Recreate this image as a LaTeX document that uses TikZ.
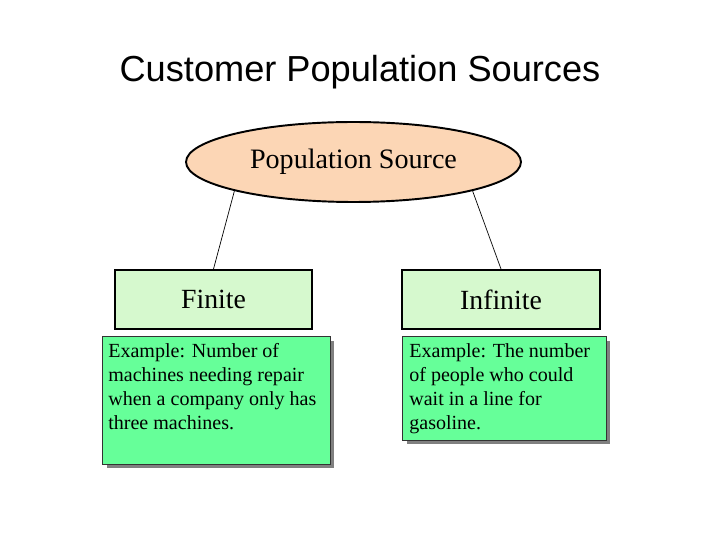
\documentclass[tikz,border=0pt]{standalone}
\usepackage{fontspec}
\setmainfont{Liberation Serif}
\newfontfamily\titlefont{Liberation Sans}
\usetikzlibrary{shapes.geometric, shadows, positioning}

\definecolor{peach}{RGB}{252,214,181}
\definecolor{palegreen}{RGB}{214,249,206}
\definecolor{brightgreen}{RGB}{102,255,153}

\begin{document}
\begin{tikzpicture}[
        x=0.02cm, y=-0.02cm,
        % Style for the source and the two kinds
        source/.style={draw, line width=1.1pt, fill=peach, ellipse, minimum width=6.7cm, minimum height=1.6cm, inner sep=0pt, font=\fontsize{16}{19}\selectfont},
        kind/.style={draw, line width=1.1pt, fill=palegreen, rectangle, minimum width=3.95cm, minimum height=1.18cm, font=\fontsize{15.8}{19}\selectfont},
        % Style for the example boxes
        example/.style={draw=black!80, fill=brightgreen, rectangle, inner sep=0pt,
            drop shadow={shadow xshift=0.09cm, shadow yshift=-0.09cm, fill=black!50, opacity=1}},
        exampletext/.style={anchor=north west, align=left, inner sep=0pt, font=\fontsize{11.4}{13.7}\selectfont},
        link/.style={thin}
    ]
    \useasboundingbox (0,0) rectangle (720,540);

    % Title
    \node[font=\titlefont\fontsize{20.6}{24}\selectfont] at (360, 72) (title) {Customer Population Sources};

    % Top node
    \node[source] at (353.5, 162) (src) {Population Source};

    % Kinds
    \node[kind] at (213.5, 299.5) (finite) {Finite};
    \node[kind] at (501, 299.5) (infinite) {Infinite};

    % Examples
    \node[example, minimum width=4.56cm, minimum height=2.56cm] at (216, 400) (exfin) {};
    \node[example, minimum width=4.08cm, minimum height=2.08cm] at (504, 388) (exinf) {};
    \node[exampletext] at (108, 343) (exfintext) {Example: Number of\\machines needing repair\\when a company only has\\three machines.};
    \node[exampletext] at (409, 343) (exinftext) {Example: The number\\of people who could\\wait in a line for\\gasoline.};

    % Links
    \draw[link] (src.south west) -- (finite.north);
    \draw[link] (src.south east) -- (infinite.north);
\end{tikzpicture}
\end{document}
